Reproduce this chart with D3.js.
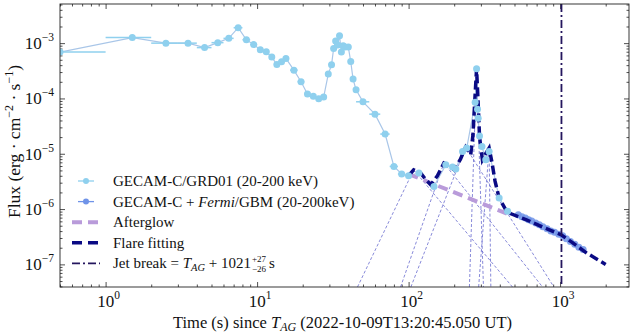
<!DOCTYPE html>
<html>
<head>
<meta charset="utf-8">
<script src="https://cdn.jsdelivr.net/npm/d3@7"></script>
<style>
  body { margin: 0; background: #fff; }
  svg { font-family: "Liberation Serif", "Times New Roman", serif; }
</style>
</head>
<body>
<div id="chart"></div>
<script>
// GECAM-C/GRD01 light curve: time (s), flux, half bin width
const gecamT = [0.5, 1.5, 2.5, 3.5, 4.5, 5.5, 6.5, 7.5, 8.5, 9.5, 10.5, 11.5, 12.5, 13.5, 14.5, 15.5,
  17.5, 19.5, 21.5, 23.5, 25.5, 27.5, 29.5, 31, 32, 33, 34, 35, 36, 37, 38, 40, 41.5, 43, 45,
  50, 60, 70, 80, 90, 100, 117, 147, 176, 195, 205, 227, 242, 275, 281, 285, 288, 294, 305,
  323, 340, 396, 450];
const gecamF = [6.9e-4, 1.26e-3, 1.0e-3, 1.0e-3, 8.3e-4, 1.02e-3, 1.22e-3, 1.9e-3, 1.15e-3, 9.4e-4,
  7.6e-4, 7.0e-4, 5.6e-4, 4.1e-4, 4.6e-4, 5.3e-4,
  3.25e-4, 2.0e-4, 1.2e-4, 1.1e-4, 9.9e-5, 1.06e-4, 2.76e-4, 4.06e-4, 8.0e-4, 1.09e-3, 9.3e-4,
  1.36e-3, 6.9e-4, 9.0e-4, 8.5e-4, 8.5e-4, 4.66e-4, 2.24e-4, 1.43e-4,
  8.7e-5, 5.2e-5, 2.27e-5, 5.9e-6, 4.3e-6, 4.0e-6, 4.5e-6, 2.57e-6, 6.3e-6, 5.75e-6, 5.3e-6,
  1.1e-5, 1.27e-5, 8.5e-5, 3.43e-4, 6.4e-5, 4.4e-5, 2.1e-5, 1.35e-5, 7.8e-6, 1.1e-5, 1.58e-6, 9.1e-7];
const gecamErr = [0.5, 0.5, 0.5, 0.5, 0.5, 0.5, 0.5, 0.5, 0.5, 0.5, 0.5, 0.5, 0.5, 0.5, 0.5, 0.5,
  1, 1, 1, 1, 1, 1, 1, 0.5, 0.5, 0.5, 0.5, 0.5, 0.5, 0.5, 0.5, 1, 0.5, 1, 1,
  5, 5, 5, 5, 5, 5, 5, 5, 5, 5, 5, 5, 5, 2, 2, 2, 2, 2, 5, 5, 5, 10, 10];

// GECAM-C + Fermi/GBM late-time points
const gbmT = [530, 560, 590, 620, 650, 690, 730, 770, 820, 870, 920, 980, 1040, 1100, 1170, 1250, 1330, 1420];
const gbmF = [7.9e-7, 7.3e-7, 6.9e-7, 6.4e-7, 6.1e-7, 5.6e-7, 5.2e-7, 4.8e-7, 4.4e-7, 4.0e-7, 3.8e-7,
  3.5e-7, 3.3e-7, 2.9e-7, 2.6e-7, 2.3e-7, 2.05e-7, 1.85e-7];

// Afterglow component
const afterT = [100, 470];
const afterF = [4.3e-6, 7.8e-7];

// Total flare fitting curve
const fitT = [100, 108, 120, 130, 140, 155, 171, 188, 200, 220, 238, 257, 266, 275, 281, 287, 294,
  307, 322, 340, 355, 372, 396, 438, 470, 600, 800, 1021, 1200, 1500, 2000];
const fitF = [4.0e-6, 5.1e-6, 4.5e-6, 3.4e-6, 2.75e-6, 4.0e-6, 6.8e-6, 6.0e-6, 5.1e-6, 8.0e-6, 1.32e-5,
  9.6e-6, 2.2e-5, 1.2e-4, 3.4e-4, 1.0e-4, 2.0e-5, 7.8e-6, 1.0e-5, 1.27e-5, 7.0e-6, 3.2e-6, 1.58e-6,
  9.7e-7, 8.3e-7, 6.4e-7, 4.5e-7, 3.4e-7, 2.5e-7, 1.6e-7, 1.0e-7];

// Individual flare components (rise start, peak, decay end)
const flareT = [[46, 108, 485], [88.5, 171, 766], [103.5, 238, 910], [252, 281, 312], [290, 340, 349]];
const flareF = [[3.9e-8, 5.1e-6, 3.9e-8], [3.9e-8, 6.8e-6, 3.9e-8], [3.9e-8, 1.32e-5, 3.9e-8],
  [3.9e-8, 3.4e-4, 3.9e-8], [3.9e-8, 1.27e-5, 3.9e-8]];

const jetBreak = 1021;

const xMajor = [1, 10, 100, 1000];
const yMajor = [-3, -4, -5, -6, -7];

const legendLabels = ["GECAM-C/GRD01 (20-200 keV)", "GECAM-C + Fermi/GBM (20-200keV)", "Afterglow",
  "Flare fitting", "Jet break"];

const width = 634, height = 335;
const margin = { top: 4, right: 5, bottom: 48, left: 60 };
const innerW = width - margin.left - margin.right;
const innerH = height - margin.top - margin.bottom;

const svg = d3.select("#chart").append("svg")
  .attr("width", width).attr("height", height);
const g = svg.append("g").attr("transform", `translate(${margin.left},${margin.top})`);

const x = d3.scaleLog().domain([0.5, 2850]).range([0, innerW]);
const y = d3.scaleLog().domain([3.9e-8, 5.1e-3]).range([innerH, 0]);

// minor tick values
const xMinor = [];
[0.1, 1, 10, 100, 1000].forEach(b => { for (let k = 2; k <= 9; k++) xMinor.push(b * k); });
const xMin = xMinor.filter(v => v >= 0.5 && v <= 2850);
const yMinor = [];
[1e-8, 1e-7, 1e-6, 1e-5, 1e-4, 1e-3].forEach(b => { for (let k = 2; k <= 9; k++) yMinor.push(b * k); });
const yMin = yMinor.filter(v => v >= 3.9e-8 && v <= 5.1e-3);
const yMajVals = yMajor.map(e => Math.pow(10, e));

function styleAxis(sel) {
  sel.select(".domain").remove();
  sel.selectAll("line").attr("stroke", "#222").attr("stroke-width", 0.8);
  sel.selectAll("text").remove();
}
// bottom / top
g.append("g").attr("transform", `translate(0,${innerH})`)
  .call(d3.axisBottom(x).tickValues(xMajor).tickSize(-5)).call(styleAxis);
g.append("g").attr("transform", `translate(0,${innerH})`)
  .call(d3.axisBottom(x).tickValues(xMin).tickSize(-2.5)).call(styleAxis);
g.append("g").call(d3.axisTop(x).tickValues(xMajor).tickSize(-5)).call(styleAxis);
g.append("g").call(d3.axisTop(x).tickValues(xMin).tickSize(-2.5)).call(styleAxis);
// left / right
g.append("g").call(d3.axisLeft(y).tickValues(yMajVals).tickSize(-5)).call(styleAxis);
g.append("g").call(d3.axisLeft(y).tickValues(yMin).tickSize(-2.5)).call(styleAxis);
g.append("g").attr("transform", `translate(${innerW},0)`)
  .call(d3.axisRight(y).tickValues(yMajVals).tickSize(-5)).call(styleAxis);
g.append("g").attr("transform", `translate(${innerW},0)`)
  .call(d3.axisRight(y).tickValues(yMin).tickSize(-2.5)).call(styleAxis);

// tick labels
xMajor.forEach(v => {
  const t = g.append("text").attr("x", x(v) + 3).attr("y", innerH + 20)
    .attr("text-anchor", "middle").attr("font-size", 17).attr("fill", "#111");
  t.append("tspan").text("10");
  t.append("tspan").attr("font-size", 11.5).attr("dy", -8).text(Math.round(Math.log10(v)));
});
yMajor.forEach(e => {
  const t = g.append("text").attr("x", -6).attr("y", y(Math.pow(10, e)) + 6)
    .attr("text-anchor", "end").attr("font-size", 17).attr("fill", "#111");
  t.append("tspan").text("10");
  t.append("tspan").attr("font-size", 11.5).attr("dy", -8).text("\u2212" + Math.abs(e));
});

// axis labels
const xl = svg.append("text").attr("x", margin.left + innerW / 2 - 2).attr("y", 328)
  .attr("text-anchor", "middle").attr("font-size", 16.5).attr("fill", "#111");
xl.append("tspan").text("Time (s) since ");
xl.append("tspan").attr("font-style", "italic").text("T");
xl.append("tspan").attr("font-style", "italic").attr("font-size", 12).attr("dy", 3).text("AG");
xl.append("tspan").attr("dy", -3).text(" (2022-10-09T13:20:45.050 UT)");

const yl = svg.append("text").attr("transform", `translate(20,${margin.top + innerH / 2 - 4}) rotate(-90)`)
  .attr("text-anchor", "middle").attr("font-size", 17.5).attr("fill", "#111");
yl.append("tspan").text("Flux (erg \u00b7 cm");
yl.append("tspan").attr("font-size", 12).attr("dy", -7).text("\u22122");
yl.append("tspan").attr("dy", 7).text(" \u00b7 s");
yl.append("tspan").attr("font-size", 12).attr("dy", -7).text("\u22121");
yl.append("tspan").attr("dy", 7).text(")");

// plot area
g.append("clipPath").attr("id", "clip").append("rect").attr("width", innerW).attr("height", innerH);
const plot = g.append("g").attr("clip-path", "url(#clip)");

const line = d3.line().x(d => x(d[0])).y(d => y(d[1]));

// flare components
flareT.forEach((ts, i) => {
  plot.append("path").datum(ts.map((t, j) => [t, flareF[i][j]]))
    .attr("d", line).attr("fill", "none")
    .attr("stroke", "#6a6ccf").attr("stroke-width", 0.8).attr("stroke-dasharray", "3,2");
});

// GECAM connecting line
const gecam = gecamT.map((t, i) => [t, gecamF[i], gecamErr[i]]);
plot.append("path").datum(gecam).attr("d", line).attr("fill", "none")
  .attr("stroke", "#a9c6e8").attr("stroke-width", 1.2);

// afterglow
plot.append("path").datum(afterT.map((t, i) => [t, afterF[i]]))
  .attr("d", line).attr("fill", "none")
  .attr("stroke", "#b99bda").attr("stroke-width", 4).attr("stroke-dasharray", "10,6");

// GBM points
const gbm = gbmT.map((t, i) => [t, gbmF[i]]);
plot.selectAll(".gbm").data(gbm).enter().append("circle")
  .attr("cx", d => x(d[0])).attr("cy", d => y(d[1])).attr("r", 3.5)
  .attr("fill", "#6f93e8").attr("opacity", 0.85);

// flare fitting
plot.append("path").datum(fitT.map((t, i) => [t, fitF[i]]))
  .attr("d", line).attr("fill", "none")
  .attr("stroke", "#0a0a84").attr("stroke-width", 3.5).attr("stroke-dasharray", "9,4");

// GECAM error bars and markers
plot.selectAll(".xerr").data(gecam).enter().append("line")
  .attr("x1", d => x(Math.max(d[0] - d[2], 0.01))).attr("x2", d => x(d[0] + d[2]))
  .attr("y1", d => y(d[1])).attr("y2", d => y(d[1]))
  .attr("stroke", "#8fd0ee").attr("stroke-width", 1.5);
plot.selectAll(".gecam").data(gecam).enter().append("circle")
  .attr("cx", d => x(d[0])).attr("cy", d => y(d[1])).attr("r", 3.5)
  .attr("fill", "#8fd0ee");

// jet break
plot.append("line").attr("x1", x(jetBreak)).attr("x2", x(jetBreak)).attr("y1", 0).attr("y2", innerH)
  .attr("stroke", "#24165e").attr("stroke-width", 1.8).attr("stroke-dasharray", "8,3,2,3");

// frame
g.append("rect").attr("width", innerW).attr("height", innerH)
  .attr("fill", "none").attr("stroke", "#222").attr("stroke-width", 0.9);

// legend
const lg = svg.append("g").attr("transform", "translate(72,181)");
const rowH = 20.6;
legendLabels.forEach((lab, i) => {
  const ry = i * rowH;
  const row = lg.append("g").attr("transform", `translate(0,${ry})`);
  if (i === 0 || i === 1) {
    const c = i === 0 ? "#8fd0ee" : "#6f93e8";
    row.append("line").attr("x1", 6).attr("x2", 22).attr("stroke", c).attr("stroke-width", 1.3);
    row.append("circle").attr("cx", 14).attr("r", 3).attr("fill", c);
  } else if (i === 2) {
    row.append("line").attr("x1", 0).attr("x2", 28).attr("stroke", "#b99bda")
      .attr("stroke-width", 4).attr("stroke-dasharray", "10,6");
  } else if (i === 3) {
    row.append("line").attr("x1", 0).attr("x2", 28).attr("stroke", "#0a0a84")
      .attr("stroke-width", 3.5).attr("stroke-dasharray", "10,6");
  } else {
    row.append("line").attr("x1", 0).attr("x2", 28).attr("stroke", "#24165e")
      .attr("stroke-width", 1.6).attr("stroke-dasharray", "8,3,2,3");
  }
  const t = row.append("text").attr("x", 41).attr("y", 5).attr("font-size", 15).attr("fill", "#111");
  if (i === 1) {
    t.append("tspan").text("GECAM-C + ");
    t.append("tspan").attr("font-style", "italic").text("Fermi");
    t.append("tspan").text("/GBM (20-200keV)");
  } else if (i === 4) {
    t.append("tspan").text("Jet break = ");
    t.append("tspan").attr("font-style", "italic").text("T");
    t.append("tspan").attr("font-style", "italic").attr("font-size", 10.5).attr("dy", 3).text("AG");
    t.append("tspan").attr("dy", -3).text(" + 1021");
    const bx = 41 + t.node().getComputedTextLength() + 1;
    row.append("text").attr("x", bx).attr("y", -1).attr("font-size", 9).attr("fill", "#111").text("+27");
    row.append("text").attr("x", bx).attr("y", 9).attr("font-size", 9).attr("fill", "#111").text("\u221226");
    row.append("text").attr("x", bx + 17).attr("y", 5).attr("font-size", 15).attr("fill", "#111").text("s");
  } else {
    t.text(lab);
  }
});
</script>
</body>
</html>
